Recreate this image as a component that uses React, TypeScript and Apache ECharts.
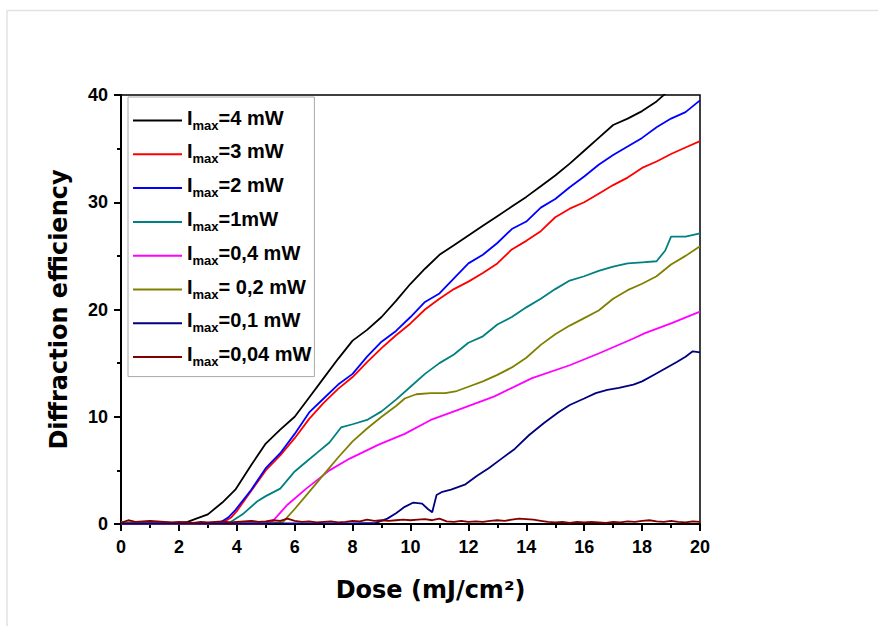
import React, { useEffect, useRef } from "react";
import * as echarts from "echarts";

// ---- Data ----
const seriesLabels = ["=4 mW", "=3 mW", "=2 mW", "=1mW", "=0,4 mW", "= 0,2 mW", "=0,1 mW", "=0,04 mW"];
const seriesColors = ["#000000", "#ff0000", "#0000ff", "#008080", "#ff00ff", "#808000", "#000080", "#800000"];

const dose4 = [0, 1, 2, 2.3, 2.6, 3.0, 3.5, 3.95, 4.5, 5.0, 5.5, 6.0, 6.5, 7.0, 7.5, 8.0, 8.5, 9.0, 9.5, 10.0, 10.5, 11.0, 11.5, 12.0, 12.5, 13.0, 13.5, 14.0, 14.5, 15.0, 15.5, 16.0, 16.5, 17.0, 17.5, 18.0, 18.5, 19.0, 20.0];
const eff4 = [0.1, 0.15, 0.1, 0.2, 0.5, 0.9, 2.0, 3.2, 5.5, 7.5, 8.8, 10.0, 11.8, 13.6, 15.4, 17.1, 18.1, 19.3, 20.8, 22.4, 23.8, 25.1, 26.0, 26.9, 27.8, 28.7, 29.6, 30.5, 31.5, 32.5, 33.6, 34.8, 36.0, 37.2, 37.8, 38.5, 39.4, 40.6, 42.2];

const dose3 = [0, 1, 2, 3, 3.5, 3.8, 4.0, 4.5, 5.0, 5.5, 6.0, 6.5, 7.0, 7.5, 8.0, 8.5, 9.0, 9.5, 10.0, 10.5, 11.0, 11.5, 12.0, 12.5, 13.0, 13.5, 14.0, 14.5, 15.0, 15.5, 16.0, 16.5, 17.0, 17.5, 18.0, 18.5, 19.0, 19.5, 20.0];
const eff3 = [0.05, 0.05, 0.05, 0.05, 0.1, 0.6, 1.2, 3.1, 5.0, 6.4, 8.0, 9.8, 11.3, 12.6, 13.7, 15.1, 16.4, 17.6, 18.7, 20.0, 21.0, 21.9, 22.6, 23.4, 24.3, 25.6, 26.4, 27.3, 28.6, 29.4, 30.0, 30.8, 31.6, 32.3, 33.2, 33.8, 34.5, 35.1, 35.7];

const dose2 = [0, 1, 2, 3, 3.4, 3.7, 3.95, 4.5, 5.0, 5.5, 6.0, 6.5, 7.0, 7.5, 8.0, 8.5, 9.0, 9.5, 10.0, 10.5, 11.0, 11.5, 12.0, 12.5, 13.0, 13.5, 14.0, 14.5, 15.0, 15.5, 16.0, 16.5, 17.0, 17.5, 18.0, 18.5, 19.0, 19.5, 20.0];
const eff2 = [0.05, 0.05, 0.05, 0.05, 0.1, 0.6, 1.3, 3.2, 5.2, 6.6, 8.4, 10.4, 11.7, 13.0, 14.0, 15.6, 17.0, 18.0, 19.3, 20.7, 21.5, 22.9, 24.3, 25.1, 26.2, 27.5, 28.2, 29.5, 30.3, 31.4, 32.4, 33.5, 34.4, 35.2, 36.0, 37.0, 37.8, 38.4, 39.5];

const dose1 = [0, 1, 2, 3, 3.5, 3.8, 4.2, 4.7, 5.0, 5.5, 6.0, 6.4, 6.8, 7.2, 7.6, 8.0, 8.5, 9.0, 9.5, 10.0, 10.5, 11.0, 11.5, 12.0, 12.5, 13.0, 13.5, 14.0, 14.5, 15.0, 15.5, 16.0, 16.5, 17.0, 17.5, 18.0, 18.5, 18.8, 19.0, 19.5, 20.0];
const eff1 = [0.05, 0.05, 0.05, 0.05, 0.05, 0.2, 0.9, 2.1, 2.6, 3.3, 4.9, 5.8, 6.7, 7.6, 9.0, 9.3, 9.7, 10.5, 11.6, 12.8, 14.0, 15.0, 15.8, 16.9, 17.5, 18.6, 19.3, 20.2, 21.0, 21.9, 22.7, 23.1, 23.6, 24.0, 24.3, 24.4, 24.5, 25.5, 26.8, 26.8, 27.1];

const dose04 = [0, 1, 2, 3, 4, 5, 5.25, 5.75, 6.4, 7.2, 7.9, 8.9, 9.8, 10.7, 11.6, 12.9, 14.2, 15.5, 16.5, 17.7, 18.1, 19.0, 20.0];
const eff04 = [0.05, 0.05, 0.05, 0.05, 0.05, 0.05, 0.3, 1.8, 3.3, 5.0, 6.1, 7.4, 8.4, 9.7, 10.6, 11.9, 13.6, 14.8, 15.9, 17.3, 17.8, 18.7, 19.8];

const dose02 = [0, 1, 2, 3, 4, 5, 5.3, 5.6, 6.0, 6.5, 7.0, 7.5, 8.0, 8.5, 9.0, 9.5, 9.8, 10.2, 10.7, 11.2, 11.6, 12.0, 12.5, 13.0, 13.5, 14.0, 14.5, 15.0, 15.5, 16.0, 16.5, 17.0, 17.5, 18.0, 18.5, 19.0, 19.5, 20.0];
const eff02 = [0.2, 0.05, 0.05, 0.05, 0.05, 0.05, 0.1, 0.2, 1.4, 3.0, 4.6, 6.2, 7.7, 8.9, 10.0, 11.0, 11.7, 12.1, 12.2, 12.2, 12.4, 12.8, 13.3, 13.9, 14.6, 15.5, 16.7, 17.7, 18.5, 19.2, 19.9, 21.0, 21.8, 22.4, 23.1, 24.2, 25.0, 25.9];

const dose01 = [0, 1, 2, 3, 4, 5, 6, 7, 8, 8.8, 9.2, 9.5, 9.8, 10.1, 10.4, 10.6, 10.75, 10.9, 11.1, 11.4, 11.9, 12.3, 12.7, 13.1, 13.6, 14.1, 14.6, 15.1, 15.5, 16.0, 16.4, 16.8, 17.2, 17.7, 18.0, 18.4, 18.8, 19.2, 19.5, 19.75, 20.0];
const eff01 = [0.05, 0.05, 0.05, 0.05, 0.05, 0.05, 0.05, 0.05, 0.05, 0.1, 0.5, 1.0, 1.6, 2.0, 1.9, 1.4, 1.1, 2.7, 3.0, 3.2, 3.7, 4.5, 5.2, 6.0, 7.0, 8.3, 9.4, 10.4, 11.1, 11.7, 12.2, 12.5, 12.7, 13.0, 13.3, 13.9, 14.5, 15.1, 15.6, 16.1, 16.0];

const dose004 = [
  0, 0.25, 0.5, 0.75, 1, 1.25, 1.5, 1.75, 2, 2.25, 2.5, 2.75, 3, 3.25, 3.5, 3.75, 4, 4.25, 4.5, 4.75,
  5, 5.25, 5.5, 5.75, 6, 6.25, 6.5, 6.75, 7, 7.25, 7.5, 7.75, 8, 8.25, 8.5, 8.75, 9, 9.25, 9.5, 9.75,
  10, 10.25, 10.5, 10.75, 11, 11.25, 11.5, 11.75, 12, 12.25, 12.5, 12.75, 13, 13.25, 13.5, 13.75, 14, 14.25, 14.5, 14.75,
  15, 15.25, 15.5, 15.75, 16, 16.25, 16.5, 16.75, 17, 17.25, 17.5, 17.75, 18, 18.25, 18.5, 18.75, 19, 19.25, 19.5, 19.75, 20,
];
const eff004 = [
  0.1, 0.35, 0.2, 0.25, 0.3, 0.25, 0.2, 0.15, 0.2, 0.15, 0.1, 0.2, 0.15, 0.2, 0.25, 0.15, 0.2, 0.25, 0.3, 0.2,
  0.25, 0.35, 0.3, 0.5, 0.3, 0.2, 0.25, 0.15, 0.2, 0.25, 0.15, 0.2, 0.3, 0.25, 0.4, 0.3, 0.35, 0.3, 0.35, 0.4,
  0.35, 0.4, 0.45, 0.35, 0.5, 0.25, 0.2, 0.3, 0.2, 0.25, 0.2, 0.3, 0.35, 0.3, 0.4, 0.5, 0.45, 0.4, 0.3, 0.2,
  0.15, 0.2, 0.1, 0.2, 0.15, 0.2, 0.15, 0.1, 0.2, 0.15, 0.25, 0.2, 0.3, 0.35, 0.25, 0.2, 0.3, 0.2, 0.15, 0.25, 0.2,
];

const doseLists = [dose4, dose3, dose2, dose1, dose04, dose02, dose01, dose004];
const effLists = [eff4, eff3, eff2, eff1, eff04, eff02, eff01, eff004];

const xTickInterval = 2;
const yTickInterval = 10;

export default function App() {
  const ref = useRef<HTMLDivElement>(null);

  useEffect(() => {
    if (!ref.current) return;
    const chart = echarts.init(ref.current, null, { renderer: "svg" });
    const labelFont = "'Liberation Sans', Arial, sans-serif";
    const nameFont = "'DejaVu Sans', sans-serif";

    const series = seriesLabels.map((lab, i) => ({
      name: "Imax" + lab,
      type: "line",
      data: doseLists[i].map((x, k) => [x, effLists[i][k]]),
      symbol: "none",
      showSymbol: false,
      clip: true,
      lineStyle: { color: seriesColors[i], width: 1.8 },
      itemStyle: { color: seriesColors[i] },
      z: 2 + i,
    }));

    chart.setOption({
      animation: false,
      backgroundColor: "#ffffff",
      grid: {
        left: 121,
        right: 178,
        top: 95,
        bottom: 102,
        show: true,
        borderColor: "#000",
        borderWidth: 1.5,
        backgroundColor: "transparent",
      },
      legend: {
        orient: "vertical",
        left: 128,
        top: 97,
        icon: "rect",
        itemWidth: 49,
        itemHeight: 2,
        itemGap: 9.8,
        padding: [10.5, 3, 8.5, 5],
        borderColor: "#a8a8a8",
        borderWidth: 1,
        backgroundColor: "#fff",
        data: seriesLabels.map((l) => "Imax" + l),
        formatter: (name: string) => `{a|I}{b|max}{a|${name.slice(4)}}`,
        textStyle: {
          rich: {
            a: {
              fontFamily: labelFont,
              fontWeight: "bold",
              fontSize: 20,
              color: "#000",
              lineHeight: 22,
              padding: [0, 0, 4, 0],
              verticalAlign: "bottom",
            },
            b: {
              fontFamily: labelFont,
              fontWeight: "bold",
              fontSize: 13,
              color: "#000",
              lineHeight: 14,
              verticalAlign: "bottom",
            },
          },
        },
      },
      xAxis: {
        type: "value",
        min: 0,
        max: 20,
        interval: xTickInterval,
        name: "Dose (mJ/cm²)",
        nameLocation: "middle",
        nameGap: 54,
        nameTextStyle: {
          fontFamily: nameFont,
          fontWeight: "bold",
          fontSize: 24,
          color: "#000",
          padding: [0, 0, 0, 40],
        },
        axisLine: { show: true, onZero: false, lineStyle: { color: "#000", width: 2 } },
        axisTick: { show: true, length: 7, lineStyle: { color: "#000", width: 2 } },
        minorTick: { show: true, splitNumber: 2, length: 4, lineStyle: { color: "#000", width: 2 } },
        splitLine: { show: false },
        axisLabel: {
          margin: 14,
          fontFamily: labelFont,
          fontWeight: "bold",
          fontSize: 18,
          color: "#000",
        },
      },
      yAxis: {
        type: "value",
        min: 0,
        max: 40,
        interval: yTickInterval,
        name: "Diffraction efficiency",
        nameLocation: "middle",
        nameGap: 50,
        nameTextStyle: {
          fontFamily: nameFont,
          fontWeight: "bold",
          fontSize: 24,
          color: "#000",
        },
        axisLine: { show: true, onZero: false, lineStyle: { color: "#000", width: 2 } },
        axisTick: { show: true, length: 7, lineStyle: { color: "#000", width: 2 } },
        minorTick: { show: true, splitNumber: 2, length: 4, lineStyle: { color: "#000", width: 2 } },
        splitLine: { show: false },
        axisLabel: {
          margin: 13,
          fontFamily: labelFont,
          fontWeight: "bold",
          fontSize: 18,
          color: "#000",
        },
      },
      graphic: [
        {
          type: "line",
          shape: { x1: 7, y1: 10.5, x2: 878, y2: 10.5 },
          style: { stroke: "#e2e2e2", lineWidth: 1.5 },
          silent: true,
        },
        {
          type: "line",
          shape: { x1: 7, y1: 10, x2: 7, y2: 626 },
          style: { stroke: "#e2e2e2", lineWidth: 1.5 },
          silent: true,
        },
      ],
      series,
    });

    return () => chart.dispose();
  }, []);

  return (
    <div
      ref={ref}
      style={{ position: "fixed", left: 0, top: 0, width: 878, height: 626, background: "#fff" }}
    />
  );
}
